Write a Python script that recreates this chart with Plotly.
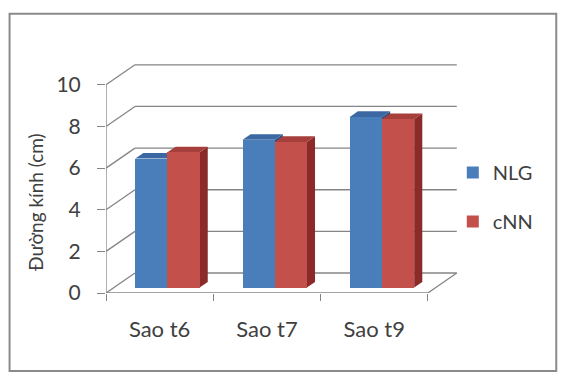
import plotly.graph_objects as go

# ---- data ----
categories = ["Sao t6", "Sao t7", "Sao t9"]
nlg = [6.2, 7.1, 8.2]
cnn = [6.5, 7.0, 8.1]
y_ticks = [0, 2, 4, 6, 8, 10]

# ---- geometry of the pseudo-3D box (data units) ----
W, H = 563, 374
PL, PT, PR, PB = 106, 64.2, 460.2, 293      # plot area in pixels
X_MAX, Y_MAX = 3.3, 11.0
DX, DY = 0.27, 0.96                          # full depth offset of the back wall
Z0, Z1 = 0.27, 0.55                          # front/back depth of the bars
BAR_W = 0.3

C_BLUE, C_BLUE_TOP, C_BLUE_SIDE = "#4a7ebb", "#3b68a3", "#2f5283"
C_RED, C_RED_TOP, C_RED_SIDE = "#c4504c", "#a63f3c", "#8a2b29"
GRID = "#858585"
FONT = "Lato"
TXT = "#404040"


def px_x(p):
    return (p - PL) / (PR - PL)


def px_y(p):
    return (PB - p) / (PB - PT)


def poly(points):
    return "M " + " L ".join(f"{x},{y}" for x, y in points) + " Z"


fig = go.Figure()

series = [("NLG", nlg, -1, C_BLUE, C_BLUE_TOP, C_BLUE_SIDE),
          ("cNN", cnn, 0, C_RED, C_RED_TOP, C_RED_SIDE)]
n = len(categories)

fx, fy = Z0 * DX, Z0 * DY
ddx, ddy = (Z1 - Z0) * DX, (Z1 - Z0) * DY

shapes = []
# walls: back horizontal lines and left-wall diagonals
for v in y_ticks:
    shapes.append(dict(type="line", xref="x", yref="y", x0=DX, y0=v + DY,
                       x1=n + DX, y1=v + DY,
                       line=dict(color=GRID, width=1.3), layer="below"))
    shapes.append(dict(type="line", xref="x", yref="y", x0=0, y0=v,
                       x1=DX, y1=v + DY, line=dict(color=GRID, width=1.3),
                       layer="below"))
# floor right edge and front edge, value axis line
shapes.append(dict(type="line", xref="x", yref="y", x0=n, y0=0, x1=n + DX, y1=DY,
                   line=dict(color=GRID, width=1.3), layer="below"))
shapes.append(dict(type="line", xref="x", yref="y", x0=0, y0=0, x1=n, y1=0,
                   line=dict(color=GRID, width=1.3), layer="below"))
shapes.append(dict(type="line", xref="x", yref="y", x0=0, y0=0, x1=0, y1=10,
                   line=dict(color=GRID, width=1.3), layer="below"))

# side and top faces of the columns, underneath the front faces
for name, vals, off, c, ctop, cside in series:
    for i, v in enumerate(vals):
        x0 = i + 0.5 + fx + off * BAR_W
        x1 = x0 + BAR_W
        b, t = fy, fy + v
        shapes.append(dict(type="path", xref="x", yref="y", layer="below",
                           path=poly([(x1, b), (x1, t), (x1 + ddx, t + ddy),
                                      (x1 + ddx, b + ddy)]),
                           fillcolor=cside, line=dict(width=0)))
        shapes.append(dict(type="path", xref="x", yref="y", layer="below",
                           path=poly([(x0, t), (x1, t), (x1 + ddx, t + ddy),
                                      (x0 + ddx, t + ddy)]),
                           fillcolor=ctop, line=dict(width=0)))

# front faces
for name, vals, off, c, ctop, cside in series:
    fig.add_trace(go.Bar(
        name=name, legendgroup=name,
        x=[i + 0.5 + fx + (off + 0.5) * BAR_W for i in range(len(vals))],
        y=vals, base=fy, width=BAR_W,
        marker=dict(color=c, line=dict(width=0)),
        hoverinfo="y"))

# chart frame
shapes.append(dict(type="rect", xref="paper", yref="paper",
                   x0=px_x(9.5), x1=px_x(556.5), y0=px_y(371), y1=px_y(14),
                   line=dict(color="#8a8a8a", width=2)))

fig.update_layout(
    width=W, height=H,
    margin=dict(l=PL, r=W - PR, t=PT, b=H - PB, autoexpand=False),
    paper_bgcolor="white", plot_bgcolor="rgba(0,0,0,0)",
    barmode="overlay", bargap=0,
    font=dict(family=FONT, color=TXT),
    shapes=shapes,
    showlegend=True,
    legend=dict(x=px_x(453), y=px_y(197), xanchor="left", yanchor="middle",
                font=dict(size=20, family=FONT, color=TXT),
                tracegroupgap=20, bgcolor="rgba(0,0,0,0)"),
    annotations=[dict(text="Đường kính (cm)", textangle=-90, showarrow=False,
                      xref="paper", yref="paper", x=px_x(36), y=px_y(202),
                      xanchor="center", yanchor="middle",
                      font=dict(size=19, family=FONT, color=TXT))],
)

fig.update_xaxes(
    range=[0, X_MAX], showgrid=False, zeroline=False, showline=False,
    tickvals=[i + 0.5 for i in range(n)], ticktext=categories,
    ticks="", ticklabelstandoff=21,
    tickfont=dict(size=22, family=FONT, color=TXT),
    minor=dict(tick0=0, dtick=1, ticks="outside", ticklen=7, tickcolor=GRID,
               showgrid=False))
fig.update_yaxes(
    range=[0, Y_MAX], showgrid=False, zeroline=False, showline=False,
    tickvals=y_ticks, ticks="outside", ticklen=8, tickcolor=GRID,
    ticklabelstandoff=12,
    tickfont=dict(size=21, family=FONT, color=TXT))

fig.write_html("out.html")
